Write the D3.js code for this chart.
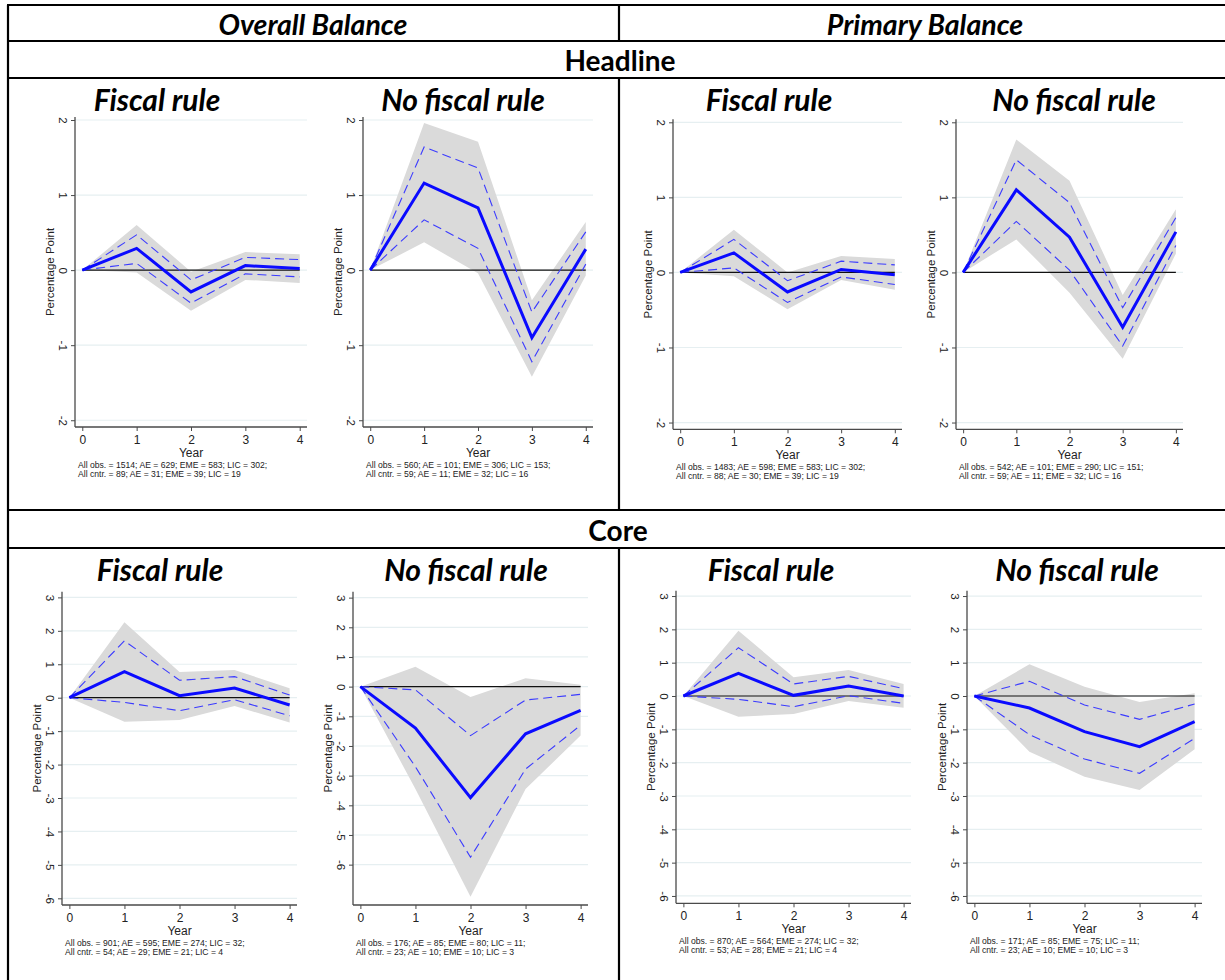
<!DOCTYPE html>
<html>
<head>
<meta charset="utf-8">
<script src="https://cdn.jsdelivr.net/npm/d3@7"></script>
<style>
  html, body { margin: 0; padding: 0; background: #fff; }
  svg { display: block; }
</style>
</head>
<body>
<svg id="fig" width="1225" height="980"></svg>
<script>
// ---------------------------------------------------------------
// Impulse responses (percentage points), horizon 0..4 years
// est = point estimate, hi/lo = inner bands (dashed), bandHi/bandLo = shaded outer bands
// ---------------------------------------------------------------
const years = [0, 1, 2, 3, 4];

// Overall balance, headline, fiscal rule
const obHeadRuleEst    = [0, 0.29, -0.29, 0.06, 0.02];
const obHeadRuleHi     = [0, 0.47, -0.13, 0.17, 0.14];
const obHeadRuleLo     = [0, 0.09, -0.44, -0.05, -0.09];
const obHeadRuleBandHi = [0, 0.60, -0.02, 0.24, 0.21];
const obHeadRuleBandLo = [0, -0.03, -0.54, -0.13, -0.17];

// Overall balance, headline, no fiscal rule
const obHeadNoEst    = [0, 1.16, 0.83, -0.90, 0.28];
const obHeadNoHi     = [0, 1.64, 1.36, -0.56, 0.51];
const obHeadNoLo     = [0, 0.67, 0.29, -1.22, 0.08];
const obHeadNoBandHi = [0, 1.96, 1.71, -0.40, 0.64];
const obHeadNoBandLo = [0, 0.37, -0.04, -1.42, -0.07];

// Primary balance, headline, fiscal rule
const pbHeadRuleEst    = [0, 0.26, -0.26, 0.04, -0.03];
const pbHeadRuleHi     = [0, 0.44, -0.11, 0.15, 0.10];
const pbHeadRuleLo     = [0, 0.06, -0.40, -0.06, -0.16];
const pbHeadRuleBandHi = [0, 0.57, 0.00, 0.22, 0.18];
const pbHeadRuleBandLo = [0, -0.05, -0.49, -0.10, -0.23];

// Primary balance, headline, no fiscal rule
const pbHeadNoEst    = [0, 1.10, 0.47, -0.73, 0.54];
const pbHeadNoHi     = [0, 1.50, 0.93, -0.47, 0.73];
const pbHeadNoLo     = [0, 0.68, 0.03, -0.98, 0.36];
const pbHeadNoBandHi = [0, 1.77, 1.22, -0.30, 0.84];
const pbHeadNoBandLo = [0, 0.44, -0.27, -1.15, 0.25];

// Overall balance, core, fiscal rule
const obCoreRuleEst    = [0, 0.78, 0.06, 0.29, -0.22];
const obCoreRuleHi     = [0, 1.70, 0.52, 0.63, 0.08];
const obCoreRuleLo     = [0, -0.14, -0.39, -0.06, -0.54];
const obCoreRuleBandHi = [0, 2.26, 0.77, 0.83, 0.28];
const obCoreRuleBandLo = [0, -0.72, -0.67, -0.25, -0.74];

// Overall balance, core, no fiscal rule
const obCoreNoEst    = [0, -1.40, -3.74, -1.59, -0.80];
const obCoreNoHi     = [0, -0.11, -1.65, -0.45, -0.26];
const obCoreNoLo     = [0, -2.70, -5.75, -2.78, -1.30];
const obCoreNoBandHi = [0, 0.67, -0.35, 0.28, 0.06];
const obCoreNoBandLo = [0, -3.45, -7.08, -3.45, -1.65];

// Primary balance, core, fiscal rule
const pbCoreRuleEst    = [0, 0.68, 0.02, 0.30, 0.00];
const pbCoreRuleHi     = [0, 1.45, 0.36, 0.59, 0.22];
const pbCoreRuleLo     = [0, -0.10, -0.32, 0.01, -0.22];
const pbCoreRuleBandHi = [0, 1.96, 0.56, 0.78, 0.36];
const pbCoreRuleBandLo = [0, -0.62, -0.54, -0.15, -0.35];

// Primary balance, core, no fiscal rule
const pbCoreNoEst    = [0, -0.36, -1.07, -1.52, -0.77];
const pbCoreNoHi     = [0, 0.44, -0.27, -0.70, -0.24];
const pbCoreNoLo     = [0, -1.16, -1.89, -2.32, -1.27];
const pbCoreNoBandHi = [0, 0.95, 0.28, -0.18, 0.08];
const pbCoreNoBandLo = [0, -1.67, -2.42, -2.82, -1.60];

// Axis tick labels
const headlineTicks = [-2, -1, 0, 1, 2];
const coreTicks = [-6, -5, -4, -3, -2, -1, 0, 1, 2, 3];

// Section and panel headings
const balanceHeads = ["Overall Balance", "Primary Balance"];
const measureHeads = ["Headline", "Core"];
const ruleHeads = ["Fiscal rule", "No fiscal rule"];

// Sample size notes, one pair of lines per panel
const notesObHeadRule = ["All obs. = 1514; AE = 629; EME = 583; LIC = 302;", "All cntr. = 89; AE = 31; EME = 39; LIC = 19"];
const notesObHeadNo   = ["All obs. = 560; AE = 101; EME = 306; LIC = 153;", "All cntr. = 59; AE = 11; EME = 32; LIC = 16"];
const notesPbHeadRule = ["All obs. = 1483; AE = 598; EME = 583; LIC = 302;", "All cntr. = 88; AE = 30; EME = 39; LIC = 19"];
const notesPbHeadNo   = ["All obs. = 542; AE = 101; EME = 290; LIC = 151;", "All cntr. = 59; AE = 11; EME = 32; LIC = 16"];
const notesObCoreRule = ["All obs. = 901; AE = 595; EME = 274; LIC = 32;", "All cntr. = 54; AE = 29; EME = 21; LIC = 4"];
const notesObCoreNo   = ["All obs. = 176; AE = 85; EME = 80; LIC = 11;", "All cntr. = 23; AE = 10; EME = 10; LIC = 3"];
const notesPbCoreRule = ["All obs. = 870; AE = 564; EME = 274; LIC = 32;", "All cntr. = 53; AE = 28; EME = 21; LIC = 4"];
const notesPbCoreNo   = ["All obs. = 171; AE = 85; EME = 75; LIC = 11;", "All cntr. = 23; AE = 10; EME = 10; LIC = 3"];

// ---------------------------------------------------------------
// Layout
// ---------------------------------------------------------------
const svg = d3.select("#fig");
const W = 1225, H = 980;
const leftEdge = 8, midX = 619;
const rowLines = [5, 41, 78, 510, 548];

const panels = [
  { est: obHeadRuleEst, hi: obHeadRuleHi, lo: obHeadRuleLo, bHi: obHeadRuleBandHi, bLo: obHeadRuleBandLo, notes: notesObHeadRule, ticks: headlineTicks,
    x0: 75, x1: 307, y0: 117, y1: 427, dom: [-2.09, 2.04], head: ruleHeads[0], hx: 157, hy: 99 },
  { est: obHeadNoEst, hi: obHeadNoHi, lo: obHeadNoLo, bHi: obHeadNoBandHi, bLo: obHeadNoBandLo, notes: notesObHeadNo, ticks: headlineTicks,
    x0: 363, x1: 593, y0: 117, y1: 427, dom: [-2.09, 2.04], head: ruleHeads[1], hx: 463, hy: 99 },
  { est: pbHeadRuleEst, hi: pbHeadRuleHi, lo: pbHeadRuleLo, bHi: pbHeadRuleBandHi, bLo: pbHeadRuleBandLo, notes: notesPbHeadRule, ticks: headlineTicks,
    x0: 673, x1: 902, y0: 119.3, y1: 429.3, dom: [-2.09, 2.04], head: ruleHeads[0], hx: 769, hy: 99 },
  { est: pbHeadNoEst, hi: pbHeadNoHi, lo: pbHeadNoLo, bHi: pbHeadNoBandHi, bLo: pbHeadNoBandLo, notes: notesPbHeadNo, ticks: headlineTicks,
    x0: 956, x1: 1183, y0: 119.3, y1: 429.3, dom: [-2.09, 2.04], head: ruleHeads[1], hx: 1074, hy: 99 },
  { est: obCoreRuleEst, hi: obCoreRuleHi, lo: obCoreRuleLo, bHi: obCoreRuleBandHi, bLo: obCoreRuleBandLo, notes: notesObCoreRule, ticks: coreTicks,
    x0: 62, x1: 297, y0: 591.7, y1: 905, dom: [-6.2, 3.17], head: ruleHeads[0], hx: 160, hy: 569 },
  { est: obCoreNoEst, hi: obCoreNoHi, lo: obCoreNoLo, bHi: obCoreNoBandHi, bLo: obCoreNoBandLo, notes: notesObCoreNo, ticks: coreTicks,
    x0: 353, x1: 588, y0: 591.7, y1: 905, dom: [-7.36, 3.2], head: ruleHeads[1], hx: 466, hy: 569 },
  { est: pbCoreRuleEst, hi: pbCoreRuleHi, lo: pbCoreRuleLo, bHi: pbCoreRuleBandHi, bLo: pbCoreRuleBandLo, notes: notesPbCoreRule, ticks: coreTicks,
    x0: 676, x1: 911, y0: 590.7, y1: 903.3, dom: [-6.22, 3.16], head: ruleHeads[0], hx: 771, hy: 569 },
  { est: pbCoreNoEst, hi: pbCoreNoHi, lo: pbCoreNoLo, bHi: pbCoreNoBandHi, bLo: pbCoreNoBandLo, notes: notesPbCoreNo, ticks: coreTicks,
    x0: 967, x1: 1202, y0: 590.7, y1: 903.3, dom: [-6.22, 3.16], head: ruleHeads[1], hx: 1077, hy: 569 }
];

const chartFont = "'Liberation Sans', Arial, sans-serif";
const headFont = "Lato, 'Open Sans', sans-serif";
const lineBlue = "#0a0aff";
const dashBlue = "#3b3bff";
const bandGray = "#dadada";
const gridColor = "#e6eff1";
const axisColor = "#4a4a4a";

// ---------------------------------------------------------------
// Table frame and headings
// ---------------------------------------------------------------
const frame = svg.append("g").attr("stroke", "#000").attr("stroke-width", 2.2);
rowLines.forEach(y => frame.append("line").attr("x1", leftEdge - 1).attr("x2", W).attr("y1", y).attr("y2", y));
frame.append("line").attr("x1", leftEdge).attr("x2", leftEdge).attr("y1", rowLines[0]).attr("y2", H);
[[rowLines[0], rowLines[1]], [rowLines[2], rowLines[3]], [rowLines[4], H]].forEach(([a, b]) =>
  frame.append("line").attr("x1", midX).attr("x2", midX).attr("y1", a).attr("y2", b));

svg.append("g").selectAll("text").data(balanceHeads).join("text")
  .attr("x", (d, i) => i === 0 ? 313 : 925)
  .attr("y", 24)
  .attr("text-anchor", "middle").attr("dominant-baseline", "central")
  .attr("font-family", headFont).attr("font-weight", 700).attr("font-style", "italic")
  .attr("font-size", 28.5).attr("fill", "#000")
  .text(d => d);

svg.append("g").selectAll("text").data(measureHeads).join("text")
  .attr("x", (d, i) => i === 0 ? 620 : 618)
  .attr("y", (d, i) => i === 0 ? 60 : 530)
  .attr("text-anchor", "middle").attr("dominant-baseline", "central")
  .attr("font-family", headFont).attr("font-weight", 700)
  .attr("font-size", 28).attr("fill", "#000")
  .text(d => d);

// ---------------------------------------------------------------
// Panels
// ---------------------------------------------------------------
panels.forEach(p => {
  const g = svg.append("g");
  const x = d3.scaleLinear().domain([-0.134, 4.134]).range([p.x0, p.x1]);
  const y = d3.scaleLinear().domain(p.dom).range([p.y1, p.y0]);

  // panel heading
  g.append("text")
    .attr("x", p.hx).attr("y", p.hy)
    .attr("text-anchor", "middle").attr("dominant-baseline", "central")
    .attr("font-family", headFont).attr("font-weight", 700).attr("font-style", "italic")
    .attr("font-size", 30).attr("fill", "#000")
    .text(p.head);

  // horizontal grid
  g.append("g").selectAll("line").data(p.ticks).join("line")
    .attr("x1", p.x0).attr("x2", p.x1)
    .attr("y1", d => y(d)).attr("y2", d => y(d))
    .attr("stroke", gridColor).attr("stroke-width", 1.2);

  const pts = years.map((yr, i) => i);

  // shaded outer band
  g.append("path")
    .attr("d", d3.area().x(i => x(years[i])).y0(i => y(p.bLo[i])).y1(i => y(p.bHi[i]))(pts))
    .attr("fill", bandGray).attr("stroke", "none");

  // zero line
  g.append("line")
    .attr("x1", x(years[0])).attr("x2", x(years[years.length - 1]))
    .attr("y1", y(0)).attr("y2", y(0))
    .attr("stroke", "#111").attr("stroke-width", 1.2);

  const line = arr => d3.line().x(i => x(years[i])).y(i => y(arr[i]))(pts);

  // inner band, dashed
  [p.hi, p.lo].forEach(arr => g.append("path")
    .attr("d", line(arr))
    .attr("fill", "none").attr("stroke", dashBlue).attr("stroke-width", 1.1)
    .attr("stroke-dasharray", "9,5"));

  // point estimate
  g.append("path")
    .attr("d", line(p.est))
    .attr("fill", "none").attr("stroke", lineBlue).attr("stroke-width", 3)
    .attr("stroke-linejoin", "miter");

  // y axis
  const yAxis = g.append("g").attr("transform", `translate(${p.x0},0)`)
    .call(d3.axisLeft(y).tickValues(p.ticks).tickSize(4).tickFormat(d3.format("d")));
  yAxis.select(".domain").attr("d", `M0,${p.y0}V${p.y1}`).attr("stroke", axisColor).attr("stroke-width", 1.3);
  yAxis.selectAll(".tick line").attr("stroke", axisColor).attr("stroke-width", 1);
  yAxis.selectAll(".tick text")
    .attr("x", 0).attr("dy", null).attr("y", 0)
    .attr("text-anchor", "middle").attr("dominant-baseline", "central")
    .attr("transform", "translate(-12,0) rotate(90)")
    .attr("font-family", chartFont).attr("font-size", 11.5).attr("fill", "#222")
    .text(d => String(d).replace("\u2212", "-"));

  // x axis
  const xAxis = g.append("g").attr("transform", `translate(0,${p.y1})`)
    .call(d3.axisBottom(x).tickValues(years).tickSize(4).tickFormat(d3.format("d")));
  xAxis.select(".domain").attr("d", `M${p.x0},0H${p.x1}`).attr("stroke", axisColor).attr("stroke-width", 1.3);
  xAxis.selectAll(".tick line").attr("stroke", axisColor).attr("stroke-width", 1);
  xAxis.selectAll(".tick text")
    .attr("y", 16.5).attr("dy", null)
    .attr("font-family", chartFont).attr("font-size", 12).attr("fill", "#222");

  // axis titles
  g.append("text")
    .attr("x", (p.x0 + p.x1) / 2).attr("y", p.y1 + 29.5)
    .attr("text-anchor", "middle")
    .attr("font-family", chartFont).attr("font-size", 12).attr("fill", "#222")
    .text("Year");
  g.append("text")
    .attr("transform", `translate(${p.x0 - 25},${(p.y0 + p.y1) / 2}) rotate(-90)`)
    .attr("text-anchor", "middle").attr("dominant-baseline", "central")
    .attr("font-family", chartFont).attr("font-size", 11.5).attr("fill", "#222")
    .text("Percentage Point");

  // sample notes
  g.append("g").selectAll("text").data(p.notes).join("text")
    .attr("x", p.x0 + 3).attr("y", (d, i) => p.y1 + 41 + i * 8.8)
    .attr("font-family", chartFont).attr("font-size", 8.6).attr("fill", "#222")
    .text(d => d);
});
</script>
</body>
</html>
